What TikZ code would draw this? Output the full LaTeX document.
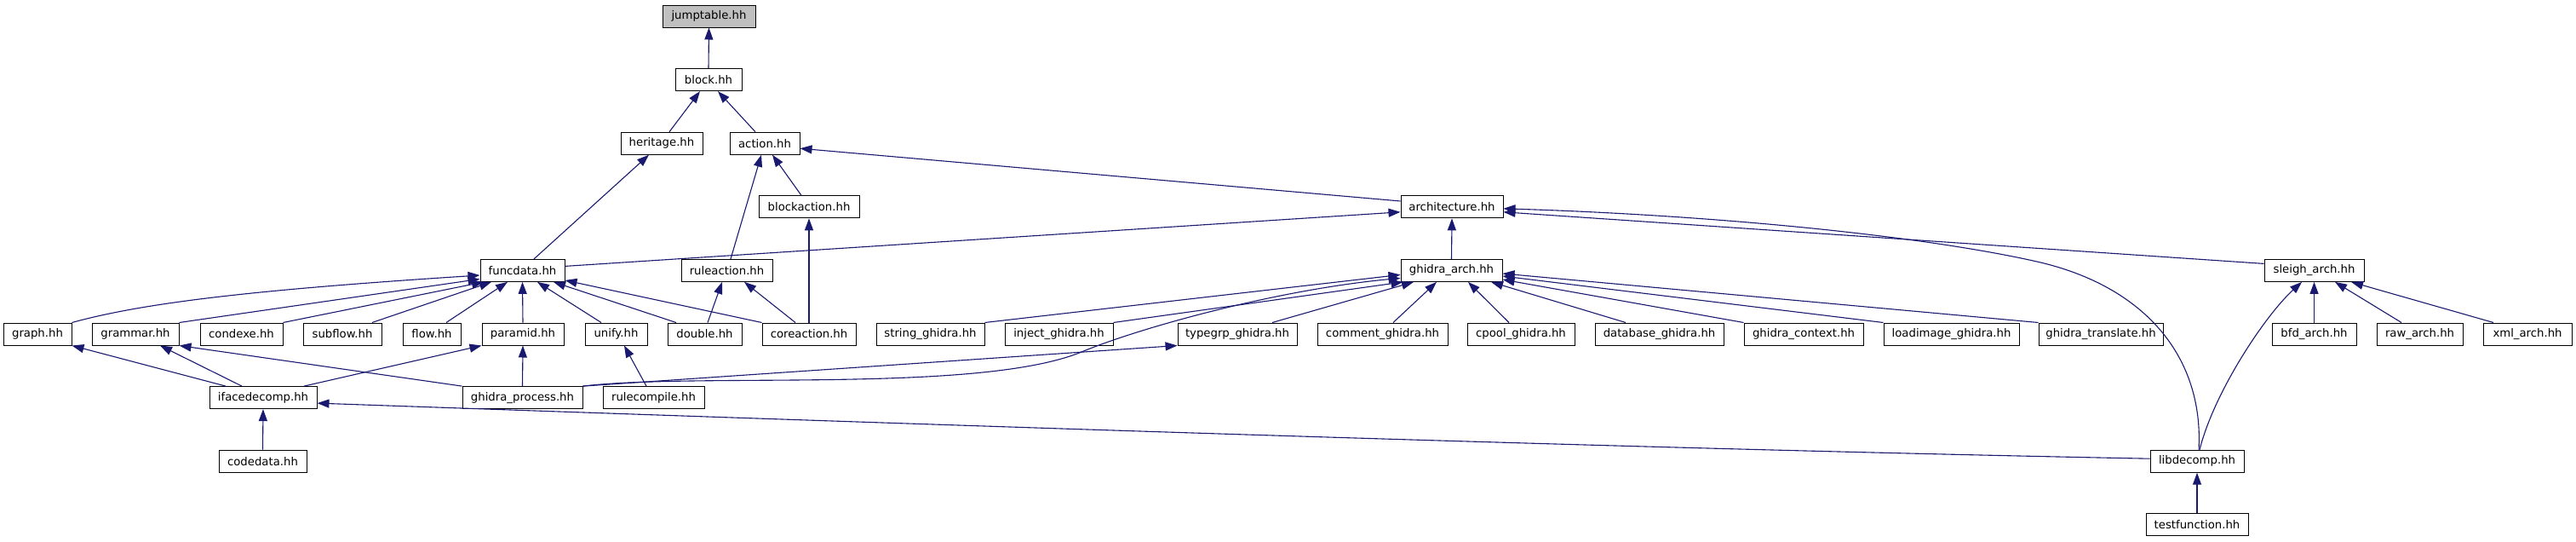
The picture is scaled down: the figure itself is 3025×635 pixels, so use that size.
\documentclass[tikz,border=0pt]{standalone}
\usepackage{fontspec}
\newfontfamily\dejavu{DejaVu Sans}
\usetikzlibrary{arrows.meta}
\definecolor{edgeblue}{HTML}{191970}
\definecolor{rootgray}{HTML}{BFBFBF}
\tikzset{
  nd/.style={draw=black, line width=1pt, fill=white, minimum height=26pt, inner sep=0pt,
    font=\dejavu\fontsize{13.25}{15}\selectfont},
  e/.style={draw=edgeblue, line width=1.1pt, {Triangle[length=14pt,width=10pt]}-},
}
\newcommand\nn[5]{\node[nd, minimum width=#3pt] (#1) at (#2,#4) {#5};}
\begin{document}
\begin{tikzpicture}[x=1pt,y=-1pt]
\fill[white] (0,0) rectangle (3025,635);
% row 0
\node[nd, fill=rootgray, minimum width=109pt] (jumptable) at (832.5,19) {jumptable.hh};
% row 1
\nn{block}{832}{78}{93.6}{block.hh}
% row 2
\nn{heritage}{777}{96}{168.2}{heritage.hh}
\nn{action}{898}{82}{168.2}{action.hh}
% row 3
\nn{blockaction}{950}{118}{242.8}{blockaction.hh}
\nn{architecture}{1705}{120}{242.8}{architecture.hh}
% row 4
\nn{funcdata}{613.5}{99}{317.4}{funcdata.hh}
\nn{ruleaction}{853.5}{107}{317.4}{ruleaction.hh}
\nn{ghidra_arch}{1704.5}{119}{317.4}{ghidra\_arch.hh}
\nn{sleigh_arch}{2717.5}{117}{317.4}{sleigh\_arch.hh}
% row 5
\nn{graph}{44}{80}{392}{graph.hh}
\nn{grammar}{159}{102}{392}{grammar.hh}
\nn{condexe}{283.5}{97}{392}{condexe.hh}
\nn{subflow}{402}{92}{392}{subflow.hh}
\nn{flow}{507}{68}{392}{flow.hh}
\nn{paramid}{614}{96}{392}{paramid.hh}
\nn{unify}{723.5}{73}{392}{unify.hh}
\nn{double}{827.5}{87}{392}{double.hh}
\nn{coreaction}{950}{110}{392}{coreaction.hh}
\nn{string_ghidra}{1092.5}{127}{392}{string\_ghidra.hh}
\nn{inject_ghidra}{1243.5}{127}{392}{inject\_ghidra.hh}
\nn{typegrp_ghidra}{1453}{140}{392}{typegrp\_ghidra.hh}
\nn{comment_ghidra}{1623.5}{153}{392}{comment\_ghidra.hh}
\nn{cpool_ghidra}{1786}{126}{392}{cpool\_ghidra.hh}
\nn{database_ghidra}{1948.5}{151}{392}{database\_ghidra.hh}
\nn{ghidra_context}{2118}{140}{392}{ghidra\_context.hh}
\nn{loadimage_ghidra}{2291.5}{159}{392}{loadimage\_ghidra.hh}
\nn{ghidra_translate}{2467}{146}{392}{ghidra\_translate.hh}
\nn{bfd_arch}{2717.5}{99}{392}{bfd\_arch.hh}
\nn{raw_arch}{2841.5}{101}{392}{raw\_arch.hh}
\nn{xml_arch}{2968}{104}{392}{xml\_arch.hh}
% row 6
\nn{ifacedecomp}{309}{126}{466.6}{ifacedecomp.hh}
\nn{ghidra_process}{613.5}{141}{466.6}{ghidra\_process.hh}
\nn{rulecompile}{767.5}{119}{466.6}{rulecompile.hh}
% row 7
\nn{codedata}{308.5}{103}{541.2}{codedata.hh}
\nn{libdecomp}{2580}{110}{541.2}{libdecomp.hh}
% row 8
\nn{testfunction}{2580}{120}{615.8}{testfunction.hh}

% edges (arrow at included file)
\draw[e] (jumptable.south) -- (block.north);
\draw[e] ([xshift=-10pt]block.south) -- ([xshift=9pt]heritage.north);
\draw[e] ([xshift=11pt]block.south) -- ([xshift=-11pt]action.north);
\draw[e] ([xshift=-15pt]heritage.south) -- ([xshift=13.5pt]funcdata.north);
\draw[e] ([xshift=-4pt]action.south) -- ([xshift=4.5pt]ruleaction.north);
\draw[e] ([xshift=9pt]action.south) -- ([xshift=-9pt]blockaction.north);
\draw[e] ([yshift=-6pt]action.east) -- ([yshift=6.8pt]architecture.west);
\draw[e] ([yshift=-6pt]architecture.west) -- ([yshift=5pt]funcdata.east);
\draw[e] (architecture.south) -- (ghidra_arch.north);
\draw[e] ([yshift=-6pt]architecture.east) -- ([yshift=8pt]sleigh_arch.west);
\draw[e] ([yshift=-2pt]architecture.east) .. controls (2000,252) and (2250,275) .. (2392,307) .. controls (2520,336) and (2588,420) .. ([xshift=2pt]libdecomp.north);
\draw[e] (blockaction.south) -- (coreaction.north);
% ghidra_arch
\draw[e] ([yshift=-5pt]ghidra_arch.west) -- (string_ghidra.north east);
\draw[e] ([xshift=3pt]ghidra_arch.south west) -- (inject_ghidra.north east);
\draw[e] ([yshift=-9pt]ghidra_arch.west) .. controls (1500,340) and (1340,384) .. (1270,413) .. controls (1150,462) and (820,437) .. (ghidra_process.north east);
\draw[e] ([xshift=-44.5pt]ghidra_arch.south) -- ([xshift=41pt]typegrp_ghidra.north);
\draw[e] ([xshift=-17.5pt]ghidra_arch.south) -- ([xshift=12.5pt]comment_ghidra.north);
\draw[e] ([xshift=19.5pt]ghidra_arch.south) -- ([xshift=-14pt]cpool_ghidra.north);
\draw[e] ([xshift=46.5pt]ghidra_arch.south) -- ([xshift=-39.5pt]database_ghidra.north);
\draw[e] ([yshift=-10.6pt]ghidra_arch.east) -- (ghidra_context.north west);
\draw[e] ([yshift=-6.6pt]ghidra_arch.east) -- (loadimage_ghidra.north west);
\draw[e] ([yshift=-3.6pt]ghidra_arch.east) -- (ghidra_translate.north west);
% sleigh_arch
\draw[e] (sleigh_arch.south) -- (bfd_arch.north);
\draw[e] ([xshift=24.5pt]sleigh_arch.south) -- ([xshift=-21.5pt]raw_arch.north);
\draw[e] ([xshift=43.5pt]sleigh_arch.south) -- ([xshift=-40pt]xml_arch.north);
\draw[e] ([xshift=-14.5pt]sleigh_arch.south) .. controls (2660,370) and (2600,460) .. ([xshift=3pt]libdecomp.north);
\draw[e] (libdecomp.south) -- (testfunction.north);
\draw[e] ([yshift=-6.5pt]ifacedecomp.east) .. controls (1200,502) and (1900,526) .. ([yshift=3pt]libdecomp.west);
% funcdata
\draw[e] ([yshift=-5.6pt]funcdata.west) .. controls (300,340) and (170,355) .. (graph.north east);
\draw[e] ([yshift=-10pt]funcdata.west) -- (grammar.north east);
\draw[e] ([xshift=-45.5pt]funcdata.south) -- (condexe.north east);
\draw[e] ([xshift=-36.5pt]funcdata.south) -- ([xshift=35pt]subflow.north);
\draw[e] ([xshift=-17.5pt]funcdata.south) -- ([xshift=17pt]flow.north);
\draw[e] (funcdata.south) -- (paramid.north);
\draw[e] ([xshift=17.5pt]funcdata.south) -- ([xshift=-17.5pt]unify.north);
\draw[e] ([xshift=36.5pt]funcdata.south) -- ([xshift=-33.5pt]double.north);
\draw[e] ([yshift=2pt]funcdata.south east) -- (coreaction.north west);
\draw[e] ([xshift=-5.5pt]ruleaction.south) -- ([xshift=3.5pt]double.north);
\draw[e] ([xshift=20.5pt]ruleaction.south) -- ([xshift=-16pt]coreaction.north);
% lower rows
\draw[e] (graph.south east) -- ([xshift=-44pt]ifacedecomp.north);
\draw[e] ([xshift=29pt]grammar.south) -- ([xshift=-25pt]ifacedecomp.north);
\draw[e] (paramid.south west) -- ([xshift=48pt]ifacedecomp.north);
\draw[e] (grammar.south east) -- (ghidra_process.north west);
\draw[e] (paramid.south) -- (ghidra_process.north);
\draw[e] ([xshift=9.5pt]unify.south) -- ([xshift=-8.5pt]rulecompile.north);
\draw[e] (ifacedecomp.south) -- (codedata.north);
\draw[e] (typegrp_ghidra.south west) -- (ghidra_process.north east);
\end{tikzpicture}
\end{document}
